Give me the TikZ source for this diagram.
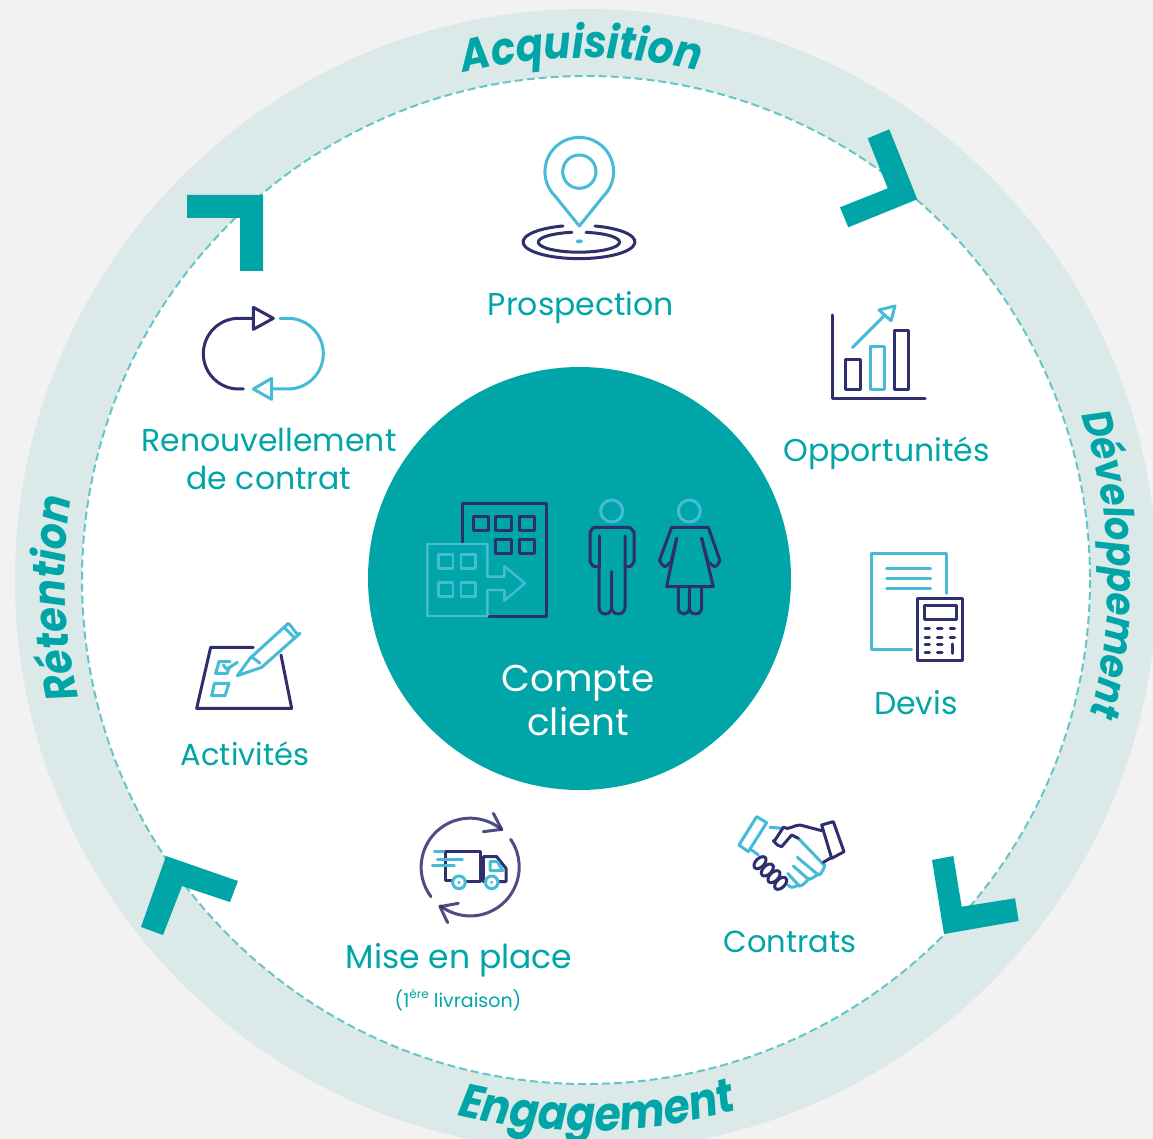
\documentclass[tikz,border=0pt]{standalone}
\usepackage{fontspec}
\setmainfont{Poppins}
\newfontfamily\ringfont[FakeStretch=0.9]{Poppins}
\usetikzlibrary{decorations.text}
\definecolor{bgc}{HTML}{F2F2F2}
\definecolor{ring}{HTML}{DBE9E9}
\definecolor{teal}{HTML}{00A5A8}
\definecolor{dash}{HTML}{66C6C6}
\definecolor{dk}{HTML}{2F2F6E}
\definecolor{lt}{HTML}{45BBD8}
\tikzset{
 dkl/.style={draw=dk,line width=3pt,line cap=round,line join=round},
 ltl/.style={draw=lt,line width=3pt,line cap=round,line join=round},
 zoomed/.style={x=0.33333pt,y=-0.33333pt},
 lab/.style={text=teal,anchor=base,inner sep=0pt,font=\fontsize{31.5}{33}\selectfont},
 smalllab/.style={font=\fontsize{30.5}{33}\selectfont},
 big/.style={text=white,font=\fontsize{37.3}{40}\selectfont},
 chev/.style={fill=teal,draw=none},
 ringlab/.style 2 args={decorate,decoration={text along path,text align=center,text color=teal,
   text={|\ringfont\fontsize{#1}{50}\selectfont\bfseries\itshape|#2}}}
}
\begin{document}
\begin{tikzpicture}[x=1pt,y=-1pt]
\useasboundingbox (0,0) rectangle (1153,1139);
\clip (0,0) rectangle (1153,1139);
\fill[bgc] (0,0) rectangle (1153,1139);
\coordinate (C) at (586,580);
\fill[ring] (C) circle[radius=571];
\draw[fill=white,draw=dash,line width=2pt,dash pattern=on 8pt off 4pt] (C) circle[radius=504];
\fill[teal] (579.5,578.5) circle[radius=211.5];
% chevrons
\fill[chev] (889.3,129.3)--(917.3,199.3)--(848.3,227.3)--(840,207.3)--(887.7,188.3)--(867.7,138.3)--cycle;
\fill[chev] (187,195)--(263,195)--(263,271)--(240,271)--(240,218)--(187,218)--cycle;
\fill[chev] (932,860)--(953.3,856)--(961.7,906.7)--(1015,898.3)--(1018.7,921)--(944,934)--cycle;
\fill[chev] (166,856)--(238,881)--(230,902)--(182,886)--(163,935)--(141,927)--cycle;
% ring labels
\path[ringlab={45}{Acquisition}] ([shift={(C)}]-108:522) arc[start angle=-108,end angle=-73,radius=522];
\path[ringlab={41}{Développement}] ([shift={(C)}]-23.7:522) arc[start angle=-23.7,end angle=20.3,radius=522];
\path[ringlab={45}{Rétention}] ([shift={(C)}]162:521) arc[start angle=162,end angle=194,radius=521];
\path[ringlab={47.5}{Engagement}] ([shift={(C)}]108.6:551) arc[start angle=108.6,end angle=69,radius=551];
% labels
\node[lab] (prospection) at (581,316) {Prospection};
\node[lab] (opportunites) at (886.5,461) {Opportunités};
\node[lab] (devis) at (916,714) {Devis};
\node[lab,smalllab] (contrats) at (790,952) {Contrats};
\node[lab,font=\fontsize{33}{35}\selectfont] (mise) at (459,968) {Mise en place};
\node[lab,font=\fontsize{19}{21}\selectfont] (livraison) at (458,1007) {(1\raisebox{0.45em}{\fontsize{12}{12}\selectfont ère} livraison)};
\node[lab,smalllab] (activites) at (245,765) {Activités};
\node[lab] (renouv) at (269,451) {Renouvellement};
\node[lab] (decontrat) at (269,489) {de contrat};
\node[lab,big] (compte) at (578,691) {Compte};
\node[lab,big] (client) at (578,735) {client};
% building and people
\begin{scope}[shift={(400,470)},zoomed]
\draw[dkl] (188,218)--(188,100)--(440,100)--(440,438)--(265,438);
\foreach \a/\b in {220/138,287/138,358/138,287/207,358/207}
  \draw[dkl] (\a,\b) rectangle ++(46,44);
\draw[ltl,line width=2.4pt] (82,222)--(262,222)--(262,320)--(313,320)--(313,288)--(375,340)--(313,392)--(313,360)--(262,360)--(262,438)--(82,438)--cycle;
\foreach \a/\b in {115/253,183/253,115/337,183/337}
  \draw[ltl,line width=2.4pt] (\a,\b) rectangle ++(44,43);
\draw[ltl] (635,123) circle[radius=33];
\draw[dkl] (597,198)--(597,290);
\draw[dkl] (597,290) -- (583,290) to[out=180,in=90] (570,277) --(570,185) to[out=-90,in=180] (583,172)--(687,172) to[out=0,in=-90] (702,185)--(702,277) to[out=90,in=0] (689,290)--(675,290);
\draw[dkl] (675,198)--(675,412) arc[start angle=0,end angle=180,radius=20]--(635,305);
\draw[dkl] (635,412) arc[start angle=0,end angle=180,x radius=19,y radius=20]--(597,290);
\draw[ltl] (868,123) circle[radius=33];
\draw[dkl] (815,172)--(925,172)--(960,272) to[out=80,in=0] (945,290) to[out=180,in=60] (925,280) --(905,205);
\draw[dkl] (815,172)--(778,272) to[out=100,in=180] (795,290) to[out=0,in=120] (812,280)--(830,205);
\draw[dkl] (830,205)--(800,350)--(940,350)--(905,205);
\draw[dkl] (868,350)--(868,414) arc[start angle=0,end angle=180,x radius=16.5,y radius=18]--(835,350);
\draw[dkl] (905,350)--(905,414) arc[start angle=0,end angle=180,x radius=18.5,y radius=18]--(868,414);
\end{scope}
% pin
\begin{scope}[shift={(500,120)},zoomed]
\draw[ltl] (238,318) -- (165,228) arc[start angle=135,end angle=405,radius=103] -- cycle;
\draw[ltl] (238,155) circle[radius=50];
\draw[dkl] (285,318) arc[start angle=-73.4,end angle=253.4,x radius=168,y radius=50];
\draw[dkl] (258,337) arc[start angle=-80,end angle=260,x radius=122,y radius=30];
\fill[lt] (238,364) ellipse[x radius=11,y radius=6];
\end{scope}
% chart and devis
\begin{scope}[shift={(810,290)},zoomed]
\draw[dkl] (67,75)--(67,327)--(345,327);
\draw[dkl] (107,210) rectangle (150,300);
\draw[ltl] (180,170) rectangle (222,300);
\draw[dkl] (252,123) rectangle (295,300);
\draw[ltl] (127,173)--(225,75);
\draw[ltl] (255,48)--(207,60)--(243,92)--cycle;
\draw[ltl] (408,910)--(408,790)--(185,790)--(185,1080)--(305,1080);
\foreach \b in {836,866,896} \draw[ltl] (230,\b)--(362,\b);
\draw[dkl] (322,927) rectangle (458,1113);
\draw[dkl] (343,948) rectangle (438,988);
\foreach \b in {1017,1042,1065,1089} {
  \draw[dkl] (345,\b)--(358,\b);
  \draw[dkl] (382,\b)--(396,\b);
}
\foreach \b in {1017,1042} \draw[dkl] (420,\b)--(434,\b);
\draw[dkl] (427,1062)--(427,1090);
\end{scope}
% handshake
\begin{scope}[shift={(720,800)},zoomed]
\draw[ltl] (110,50)--(140,68)--(85,155)--(57,135)--cycle;
\draw[ltl] (150,82)--(190,85);
\draw[ltl] (95,150)--(115,165);
\draw[ltl] (235,115)--(312,195) to[out=60,in=0,looseness=1] (295,225)--(232,172);
\draw[ltl] (295,225) to[out=60,in=0,looseness=1.2] (265,238)--(220,198);
\draw[ltl] (265,238) to[out=60,in=0,looseness=1.2] (238,258)--(203,220);
\draw[ltl] (238,258) to[out=60,in=0,looseness=1] (215,262)--(203,255);
\draw[dkl] (305,92)--(240,75) to[out=180,in=-30] (190,82)--(162,125) to[out=120,in=180,looseness=1.5] (185,140)--(215,105)--(235,115);
\draw[dkl] (305,75)--(340,65)--(372,155)--(335,175)--cycle;
\draw[dkl] (310,187)--(335,172);
\foreach \a/\b in {120/188,142/210,162/230,182/250}
  \draw[dkl,rotate around={45:(\a,\b)}] (\a,\b) ellipse[x radius=22,y radius=13];
\end{scope}
% truck
\begin{scope}[shift={(400,800)},zoomed]
\draw[dkl,draw opacity=.85] (93,290) arc[start angle=143,end angle=310,radius=147];
\draw[dkl,draw opacity=.85] (280,40)--(305,88)--(250,95);
\draw[dkl,draw opacity=.85] (332,118) arc[start angle=-34.3,end angle=127.5,radius=147];
\draw[dkl,draw opacity=.85] (175,310)--(120,320)--(143,368);
\draw[dkl] (135,155)--(240,155)--(240,245)--(195,245);
\draw[dkl] (135,155)--(135,240)--(155,240);
\draw[dkl] (258,245)--(250,245)--(250,170)--(290,170)--(318,205)--(318,245)--(295,245);
\draw[ltl] (270,185)--(292,185)--(308,212)--(270,212)--cycle;
\foreach \a in {177,275} {\draw[ltl] (\a,247) circle[radius=19]; \fill[lt] (\a,247) circle[radius=5];}
\draw[ltl] (103,153)--(130,153);
\draw[ltl] (112,178)--(187,178);
\draw[ltl] (97,195)--(163,195);
\end{scope}
% checklist
\begin{scope}[shift={(180,610)},zoomed]
\draw[dkl] (220,112)--(92,112)--(50,295)--(335,295)--(303,135);
\draw[ltl] (150,155)--(117,155)--(107,190)--(142,190)--(147,172);
\draw[ltl] (103,220)--(147,220)--(135,257)--(95,257)--cycle;
\draw[ltl] (130,165)--(140,178)--(172,157);
\draw[ltl] (172,197)--(210,145)--(325,40) to[out=-40,in=-110,looseness=0.9] (360,70)--(245,172)--cycle;
\draw[ltl] (312,52)--(345,85);
\draw[ltl] (215,140)--(240,160);
\end{scope}
% loop
\begin{scope}[shift={(180,290)},zoomed]
\draw[dkl] (190,297)--(176,297) arc[start angle=90,end angle=270,radius=106]--(220,85);
\draw[dkl] (220,52)--(280,85)--(220,118)--cycle;
\draw[ltl] (300,85)--(324,85) arc[start angle=-90,end angle=90,radius=106]--(275,297);
\draw[ltl] (275,265)--(220,297)--(275,328)--cycle;
\end{scope}
\end{tikzpicture}
\end{document}
